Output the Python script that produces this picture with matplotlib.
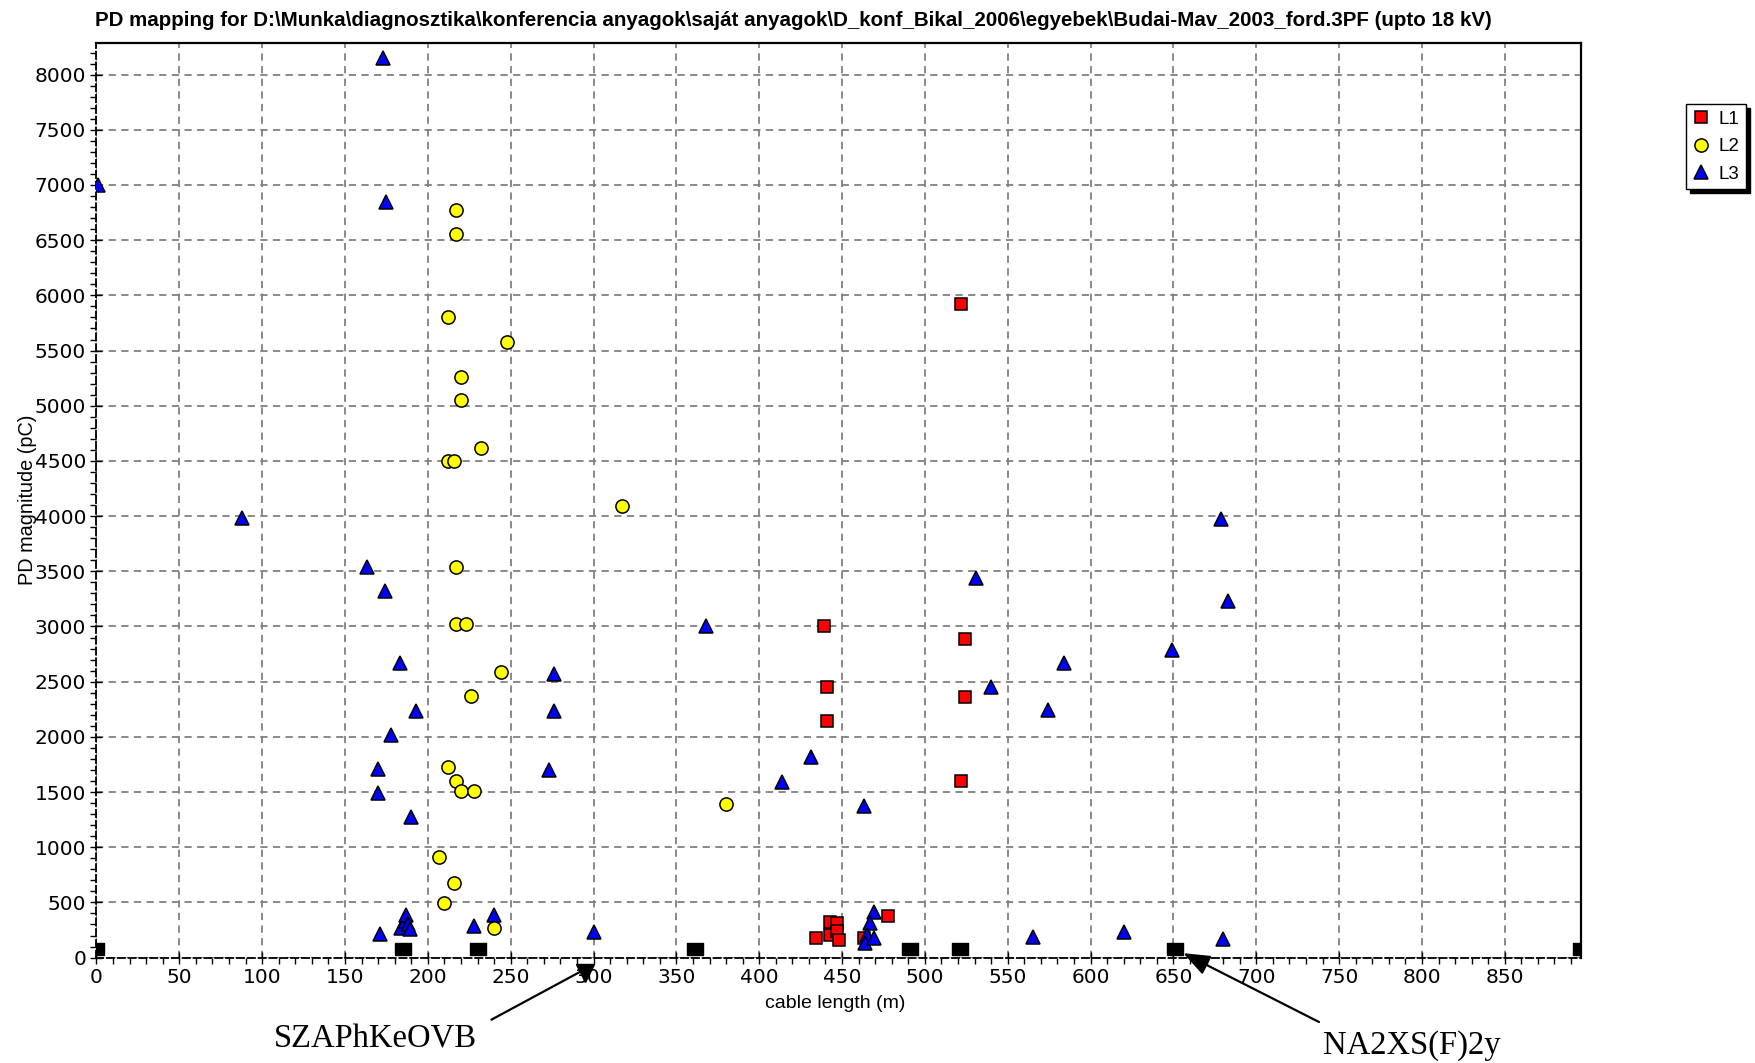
import numpy as np
import matplotlib
matplotlib.use("Agg")
import matplotlib.pyplot as plt
from matplotlib.ticker import MultipleLocator

# PD locations (cable length in m, magnitude in pC) per phase
l1_x = [439, 441, 441, 522, 524, 524, 522, 434, 443, 443, 447, 447, 448, 478, 463]
l1_y = [3005, 2455, 2145, 5920, 2890, 2360, 1600, 175, 325, 205, 310, 240, 160, 375, 175]

l2_x = [217, 217, 212, 248, 220, 220, 232, 212, 216, 317, 217, 217, 223, 244, 226,
        212, 217, 220, 228, 380, 207, 216, 210, 240]
l2_y = [6770, 6560, 5800, 5580, 5260, 5050, 4620, 4500, 4500, 4090, 3540, 3020, 3020,
        2585, 2370, 1725, 1600, 1505, 1505, 1395, 910, 680, 495, 265]

l3_x = [173, 1, 175, 88, 163, 174, 183, 276, 193, 276, 178, 170, 273, 170, 190, 171,
        184, 186, 187, 188, 189, 228, 240, 300, 368, 531, 540, 431, 414, 463, 469, 467,
        465, 464, 469, 679, 683, 649, 584, 574, 565, 620, 680]
l3_y = [8150, 7000, 6850, 3980, 3540, 3320, 2670, 2570, 2235, 2235, 2020, 1705, 1700,
        1490, 1270, 210, 270, 330, 390, 300, 260, 290, 385, 235, 3005, 3440, 2450, 1815,
        1595, 1375, 415, 310, 205, 130, 180, 3970, 3230, 2790, 2670, 2245, 185, 235, 165]

# cable joints / ends
joint_x = [0, 185, 230, 361, 491, 521, 651, 896]
joint_y = [75] * len(joint_x)

title = ("PD mapping for D:\\Munka\\diagnosztika\\konferencia anyagok\\saját anyagok"
         "\\D_konf_Bikal_2006\\egyebek\\Budai-Mav_2003_ford.3PF (upto 18 kV)")

W, H = 1756, 1063
fig = plt.figure(figsize=(W / 100, H / 100), dpi=100)
ax = fig.add_axes([96.5 / W, 1 - 957.6 / H, (1581 - 96.5) / W, (957.6 - 42.6) / H])

plt.rcParams['font.family'] = ['Liberation Sans', 'DejaVu Sans']

ax.plot(l1_x, l1_y, ls='none', marker='s', ms=8.5, mfc='#ff0000', mec='black', mew=1.1, label='L1', zorder=3)
ax.plot(l3_x, l3_y, ls='none', marker='^', ms=10.5, mfc='#0000ff', mec='black', mew=1.1, label='L3', zorder=4)
ax.plot(l2_x, l2_y, ls='none', marker='o', ms=9.5, mfc='#ffff00', mec='black', mew=1.1, label='L2', zorder=5)
rect = [(-1, -0.72), (1, -0.72), (1, 0.72), (-1, 0.72), (-1, -0.72)]
ax.plot(joint_x, joint_y, ls='none', marker=rect, ms=11.5, mfc='black', mec='black', zorder=6)

ax.set_xlim(0, 896)
ax.set_ylim(0, 8290)
ax.xaxis.set_major_locator(MultipleLocator(50))
ax.xaxis.set_minor_locator(MultipleLocator(10))
ax.yaxis.set_major_locator(MultipleLocator(500))
ax.yaxis.set_minor_locator(MultipleLocator(100))
ax.grid(True, which='major', color='#808080', ls=(0, (4, 3)), lw=1.3)
ax.set_axisbelow(True)

ax.tick_params(which='major', direction='inout', length=9, width=1, labelsize=14.5, pad=3)
ax.tick_params(which='minor', direction='out', length=4, width=1)
for s in ('top', 'right'):
    ax.spines[s].set_linewidth(1.6)
for s in ('left', 'bottom'):
    ax.spines[s].set_linestyle((0, (4, 2)))
    ax.spines[s].set_linewidth(1.3)

fig.text(95 / W, 1 - 20 / H, title, ha='left', va='center', fontsize=14.8, fontweight='bold')
fig.text(835 / W, 1 - 1004 / H, 'cable length (m)', ha='center', va='center', fontsize=14)
fig.text(28 / W, 1 - 500 / H, 'PD magnitude (pC)', ha='center', va='center', rotation=90, fontsize=14.3)

h, l = ax.get_legend_handles_labels()
order = [l.index('L1'), l.index('L2'), l.index('L3')]
leg = fig.legend([h[i] for i in order], [l[i] for i in order], loc='upper left',
                 bbox_to_anchor=(1686 / W, 1 - 104 / H), fontsize=13.5, frameon=True,
                 fancybox=False, edgecolor='black', framealpha=1,
                 shadow={'ox': 3, 'oy': -3, 'color': 'black', 'alpha': 1},
                 handlelength=0.9, handletextpad=0.5, borderpad=0.35, labelspacing=0.55,
                 borderaxespad=0)
leg.get_frame().set_linewidth(1)

# cable type labels
serif = ['Liberation Serif', 'DejaVu Serif']
ax.annotate('', xy=(293, -120), xycoords='data',
            xytext=(489 / W, 1 - 1021 / H), textcoords='figure fraction',
            arrowprops=dict(arrowstyle='-', lw=1.6, color='black'), annotation_clip=False)
ax.plot([295], [-135], marker='v', ms=13, color='black', clip_on=False, zorder=7)
fig.text(375 / W, 1 - 1039 / H, 'SZAPhKeOVB', ha='center', va='center', fontsize=23.5, family=serif)

ax.annotate('', xy=(656, 40), xycoords='data',
            xytext=(1319 / W, 1 - 1022 / H), textcoords='figure fraction',
            arrowprops=dict(arrowstyle='-|>,head_length=0.9,head_width=0.35', mutation_scale=18,
                            lw=1.6, color='black', shrinkA=0, shrinkB=0), annotation_clip=False)
fig.text(1412 / W, 1 - 1046 / H, 'NA2XS(F)2y', ha='center', va='center', fontsize=23.5, family=serif)

fig.savefig('out.png', dpi=100)
